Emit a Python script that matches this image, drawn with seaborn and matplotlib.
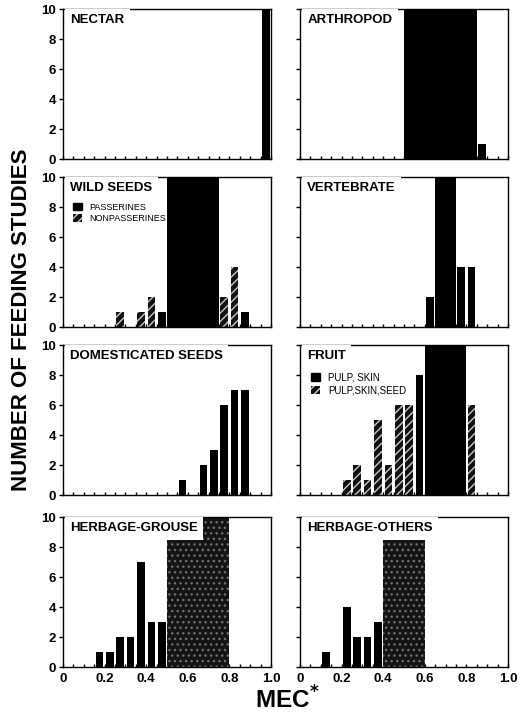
import numpy as np
import pandas as pd
import matplotlib
matplotlib.use("Agg")
import matplotlib.pyplot as plt
from matplotlib.patches import Patch
from matplotlib import font_manager
import seaborn as sns

sns.set_theme(style="white")
plt.rcParams['font.family'] = ['Liberation Sans', 'DejaVu Sans']
plt.rcParams['hatch.linewidth'] = 1.0
plt.rcParams['text.color'] = 'black'
plt.rcParams['axes.labelcolor'] = 'black'
plt.rcParams['xtick.color'] = 'black'
plt.rcParams['ytick.color'] = 'black'

# 20 bins of MEC*, width 0.05
bin_width = 0.05
bin_centers = np.round(np.arange(20) * 0.05 + 0.025, 3)

# counts per bin (values above 10 run off the top of the axis)
nectar_counts = [0]*19 + [12]
arthropod_counts = [0]*17 + [1, 0, 0]
arthropod_offscale = [0]*10 + [12]*7 + [0]*3
wild_passerines = [0]*9 + [1] + [0]*7 + [1, 0, 0]
wild_nonpasserines = [0, 0, 0, 0, 0, 1, 0, 1, 2, 0, 0, 0, 0, 0, 0, 2, 4, 0, 0, 0]
wild_offscale = [0]*10 + [12]*5 + [0]*5
vertebrate_counts = [0]*12 + [2, 0, 0, 4, 4, 0, 0, 0]
vertebrate_offscale = [0]*13 + [12]*2 + [0]*5
domestic_counts = [0]*11 + [1, 0, 2, 3, 6, 7, 7, 0, 0]
fruit_pulp_skin = [0]*11 + [8] + [0]*8
fruit_pulp_skin_seed = [0, 0, 0, 0, 1, 2, 1, 5, 2, 6, 6, 0, 0, 0, 0, 0, 6, 0, 0, 0]
fruit_offscale = [0]*12 + [12]*4 + [0]*4
grouse_counts = [0, 0, 0, 1, 1, 2, 2, 7, 3, 3] + [0]*10
grouse_offscale = [0]*10 + [12]*6 + [0]*4
others_counts = [0, 0, 1, 0, 4, 2, 2, 3] + [0]*12
others_offscale = [0]*8 + [12]*4 + [0]*8

x_tick_values = [0, 0.2, 0.4, 0.6, 0.8, 1.0]
x_tick_labels = ["0", "0.2", "0.4", "0.6", "0.8", "1.0"]
y_tick_values = [0, 2, 4, 6, 8, 10]

W, H = 526, 718
fig = plt.figure(figsize=(W/100, H/100), dpi=100)

col_left = [63/W, 300/W]
ax_w = 208/W
row_tops = [9, 177, 345, 517]
ax_h = 150/H

axes = {}
for r in range(4):
    for c in range(2):
        b = 1 - (row_tops[r] + 150)/H
        axes[(r, c)] = fig.add_axes([col_left[c], b, ax_w, ax_h])

SHRINK = 0.72

def bars(ax, counts, shrink=SHRINK, color='black', hatch=None, edge='black', z=2):
    df = pd.DataFrame({'x': bin_centers, 'w': np.asarray(counts, dtype=float)})
    df = df[df['w'] > 0]
    if len(df) == 0:
        return
    kw = dict(edgecolor=edge, linewidth=0, zorder=z)
    if hatch:
        kw['hatch'] = hatch
    sns.histplot(data=df, x='x', weights='w', binwidth=bin_width, binrange=(0, 1),
                 shrink=shrink, color=color, alpha=1, ax=ax, element='bars', **kw)

def hatched(ax, counts):
    bars(ax, counts, color='#111111', hatch='////', edge='#c8c8c8')

def stippled(ax, counts, shrink=1.0):
    bars(ax, counts, shrink=shrink, color='#141414', hatch='...', edge='#6e6e6e')

# NECTAR
ax = axes[(0, 0)]
bars(ax, nectar_counts)
# ARTHROPOD
ax = axes[(0, 1)]
bars(ax, arthropod_counts)
bars(ax, arthropod_offscale, shrink=1.0)
# WILD SEEDS
ax = axes[(1, 0)]
bars(ax, wild_passerines)
hatched(ax, wild_nonpasserines)
bars(ax, wild_offscale, shrink=1.0)
# VERTEBRATE
ax = axes[(1, 1)]
bars(ax, vertebrate_counts)
bars(ax, vertebrate_offscale, shrink=1.0)
# DOMESTICATED SEEDS
ax = axes[(2, 0)]
bars(ax, domestic_counts)
# FRUIT
ax = axes[(2, 1)]
bars(ax, fruit_pulp_skin)
hatched(ax, fruit_pulp_skin_seed)
bars(ax, fruit_offscale, shrink=1.0)
# HERBAGE-GROUSE
ax = axes[(3, 0)]
bars(ax, grouse_counts)
stippled(ax, grouse_offscale)
# HERBAGE-OTHERS
ax = axes[(3, 1)]
bars(ax, others_counts)
stippled(ax, others_offscale)

titles = {(0, 0): "NECTAR", (0, 1): "ARTHROPOD", (1, 0): "WILD SEEDS",
          (1, 1): "VERTEBRATE", (2, 0): "DOMESTICATED SEEDS", (2, 1): "FRUIT",
          (3, 0): "HERBAGE-GROUSE", (3, 1): "HERBAGE-OTHERS"}

for (r, c), ax in axes.items():
    ax.set_xlim(0, 1.0)
    ax.set_ylim(0, 10)
    ax.set_xlabel("")
    ax.set_ylabel("")
    for s in ax.spines.values():
        s.set_visible(True)
        s.set_color('black')
        s.set_linewidth(1.0)
        s.set_zorder(5)
    ax.set_yticks(y_tick_values)
    ax.set_xticks(x_tick_values)
    ax.set_xticks(np.arange(0, 1.0001, 0.05), minor=True)
    ax.tick_params(axis='y', which='both', direction='out', length=3, width=1,
                   left=True, labelsize=9.5, pad=2, colors='black')
    ax.tick_params(axis='x', which='both', direction='in', length=2.5, width=1,
                   bottom=True, labelsize=9.5, pad=4, colors='black')
    if c == 1:
        ax.set_yticklabels([])
    else:
        ax.set_yticklabels([str(v) for v in y_tick_values], fontweight='bold')
    if r == 3:
        ax.set_xticklabels(x_tick_labels, fontweight='bold')
    else:
        ax.set_xticklabels([])
    ax.text(0.035, 0.965, titles[(r, c)], transform=ax.transAxes, ha='left', va='top',
            fontsize=9.5, fontweight='bold', color='black', zorder=10,
            bbox=dict(facecolor='white', edgecolor='none', pad=3.8))
    ax.set_facecolor('white')

# legends
ax = axes[(1, 0)]
ax.legend(handles=[Patch(facecolor='black', edgecolor='black', label='PASSERINES'),
                   Patch(facecolor='#111111', edgecolor='#c8c8c8', hatch='////', linewidth=0, label='NONPASSERINES')],
          loc='upper left', bbox_to_anchor=(0.02, 0.87), frameon=False, fontsize=6.5,
          handlelength=0.9, handleheight=0.9, handletextpad=0.9, labelspacing=0.25, borderpad=0.2)
ax = axes[(2, 1)]
ax.legend(handles=[Patch(facecolor='black', edgecolor='black', label='PULP, SKIN'),
                   Patch(facecolor='#111111', edgecolor='#c8c8c8', hatch='////', linewidth=0, label='PULP,SKIN,SEED')],
          loc='upper left', bbox_to_anchor=(0.02, 0.86), frameon=False, fontsize=7,
          handlelength=0.9, handleheight=0.9, handletextpad=0.9, labelspacing=0.25, borderpad=0.2)

# y label: prefer a narrow bold face if one is installed
names = {f.name for f in font_manager.fontManager.ttflist}
if 'Liberation Sans Narrow' in names:
    ylab_family, ylab_size = ['Liberation Sans Narrow', 'DejaVu Sans'], 20
elif 'DejaVu Sans Condensed' in names:
    ylab_family, ylab_size = ['DejaVu Sans Condensed', 'DejaVu Sans'], 17
else:
    ylab_family, ylab_size = ['Liberation Sans', 'DejaVu Sans'], 16

fig.text(22/W, 1 - 320/H, "NUMBER OF FEEDING STUDIES", rotation=90, ha='center', va='center',
         fontsize=ylab_size, fontweight='bold', color='black', family=ylab_family)
fig.text(287/W, 1 - 700/H, r"MEC$^{\mathbf{*}}$", ha='center', va='center',
         fontsize=17.5, fontweight='bold', color='black')

fig.savefig("out.png", dpi=100, facecolor='white')
